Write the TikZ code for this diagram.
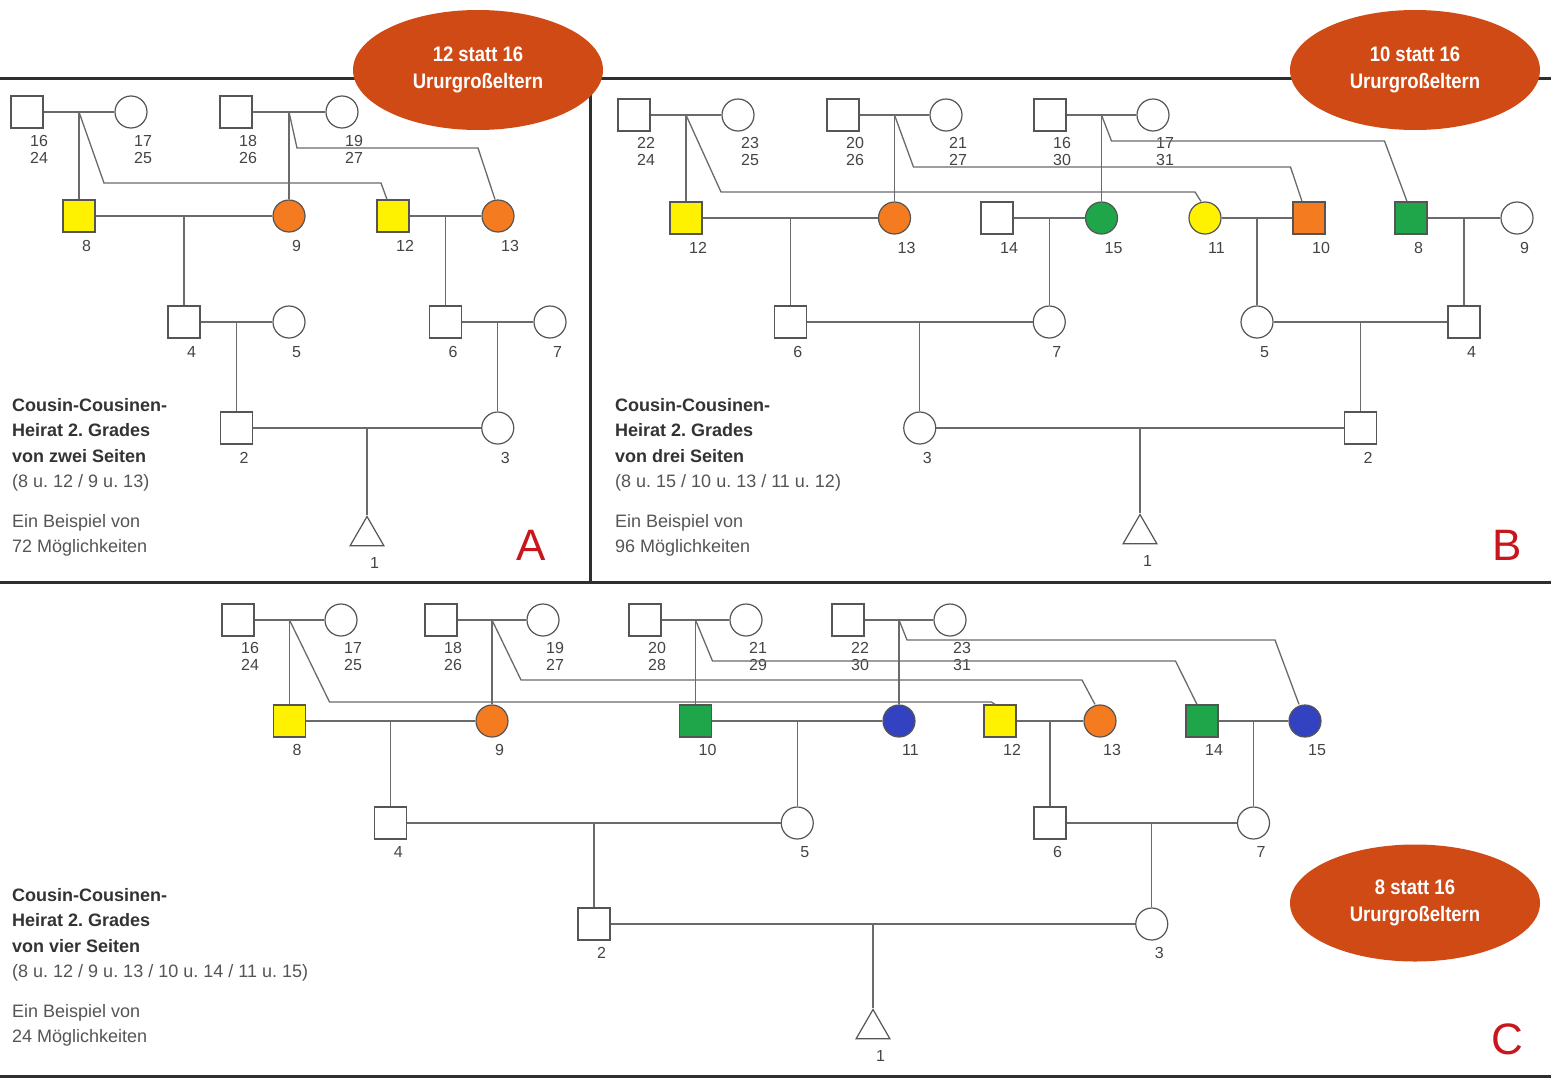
\documentclass[tikz,border=0pt]{standalone}
\usepackage{fontspec}
\setmainfont{Liberation Sans}
\newfontfamily\ovalfont{Liberation Sans}[FakeStretch=0.88]
\usetikzlibrary{calc,shapes.geometric}
\definecolor{ovalred}{HTML}{D04A16}
\definecolor{pyel}{HTML}{FFF200}
\definecolor{pora}{HTML}{F47B20}
\definecolor{pgrn}{HTML}{1FA64A}
\definecolor{pblu}{HTML}{3242C0}
\definecolor{linegray}{HTML}{6A6A6A}
\definecolor{shapegray}{HTML}{555555}
\definecolor{framegray}{HTML}{2E2E2E}
\definecolor{txtdark}{HTML}{333333}
\definecolor{txtgray}{HTML}{555555}
\definecolor{numgray}{HTML}{444444}
\definecolor{lettred}{HTML}{C8161D}
\begin{document}
\frenchspacing
\begin{tikzpicture}[x=1pt,y=-1pt,
  person/.style={draw=shapegray, line width=1.2pt, fill=white, inner sep=0pt, minimum size=32pt},
  male/.style={person, rectangle},
  female/.style={person, circle},
  mY/.style={male, fill=pyel},
  mO/.style={male, fill=pora},
  mG/.style={male, fill=pgrn},
  fY/.style={female, fill=pyel},
  fO/.style={female, fill=pora},
  fG/.style={female, fill=pgrn},
  fB/.style={female, fill=pblu},
  childtri/.style={draw=shapegray, line width=1.2pt, fill=white, regular polygon, regular polygon sides=3, minimum size=39pt, inner sep=0pt},
  con/.style={draw=linegray, line width=1.3pt},
  frameline/.style={draw=framegray, line width=3pt},
  numlab/.style={inner sep=0pt, anchor=north west, align=left, text=numgray, font=\frenchspacing\fontsize{16}{17}\selectfont},
  desc/.style={inner sep=0pt, anchor=north west, align=left, text=txtdark, font=\frenchspacing\fontsize{18}{25.5}\selectfont},
  descb/.style={inner sep=0pt, anchor=north west, align=left, text=txtgray, font=\frenchspacing\fontsize{18}{25}\selectfont},
  ovalnode/.style={ellipse, fill=ovalred, minimum width=250pt, minimum height=120pt, inner sep=0pt, text=white, align=center, font=\ovalfont\bfseries\fontsize{21}{27}\selectfont},
  panelletter/.style={inner sep=0pt, anchor=base, text=lettred, font=\fontsize{44}{48}\selectfont}
]
\useasboundingbox (0,0) rectangle (1551,1079);
\fill[white] (0,0) rectangle (1551,1079);

% frame
\draw[frameline] (0,78) -- (1551,78);
\draw[frameline] (590,78) -- (590,582);
\draw[frameline] (0,582) -- (1551,582);
\draw[frameline] (0,1076) -- (1551,1076);

% ================= Panel A =================
\foreach \n/\px/\py/\st in {16/27/112/male, 17/131/112/female, 18/236/112/male, 19/342/112/female,
  8/79/216/mY, 9/289/216/fO, 12/393/216/mY, 13/498/216/fO,
  4/184/322/male, 5/289/322/female, 6/445.5/322/male, 7/550/322/female,
  2/236.5/428/male, 3/497.75/428/female}
  \node[\st] (A\n) at (\px,\py) {};
\node[childtri] (A1) at (367,536) {};

\foreach \n/\b in {16/24,17/25,18/26,19/27}
  \node[numlab] (lA\n) at ($(A\n)+(3,23.5)$) {\n\\\b};
\foreach \n in {8,9,12,13,4,5,6,7,2,3}
  \node[numlab] (lA\n) at ($(A\n)+(3,24.5)$) {\n};
\node[numlab] (lA1) at ($(A1)+(3,21)$) {1};

\foreach \a/\b in {16/17,18/19,8/9,12/13,4/5,6/7,2/3}{
  \draw[con] (A\a) -- (A\b);
  \coordinate (jA\a\b) at ($(A\a)!0.5!(A\b)$);
}
\foreach \j/\c in {1617/8,1819/9,89/4,1213/6,45/2,67/3,23/1}
  \draw[con] (jA\j) -- (jA\j |- A\c.north);
\draw[con] (jA1617) -- ++(25,71) -- ++(277,0) -- ($(A12.north)+(-6,0)$);
\draw[con] (jA1819) -- ++(8,36) -- ++(181,0) -- ($(A13.north)+(-3,0)$);

\node[desc] (tA1) at (12,398) {\textbf{Cousin-Cousinen-}\\\textbf{Heirat 2. Grades}\\\textbf{von zwei Seiten}\\{\color{txtgray}(8 u. 12 / 9 u. 13)}};
\node[descb] (tA2) at (12,514) {Ein Beispiel von\\72 Möglichkeiten};
\node[panelletter] (letA) at (531,560) {A};

% ================= Panel B =================
\foreach \n/\px/\py/\st in {22/634/115/male, 23/738/115/female, 20/843/115/male, 21/946/115/female, 16/1050/115/male, 17/1153/115/female,
  12/686/218/mY, 13/894.5/218/fO, 14/997/218/male, 15/1101.5/218/fG, 11/1205/218/fY, 10/1309/218/mO, 8/1411/218/mG, 9/1517/218/female,
  6/790.25/322/male, 7/1049.25/322/female, 5/1257/322/female, 4/1464/322/male,
  3/919.75/428/female, 2/1360.5/428/male}
  \node[\st] (B\n) at (\px,\py) {};
\node[childtri] (B1) at (1140,534) {};

\foreach \n/\b in {22/24,23/25,20/26,21/27,16/30,17/31}
  \node[numlab] (lB\n) at ($(B\n)+(3,22.5)$) {\n\\\b};
\foreach \n in {12,13,14,15,11,10,8,9,6,7,5,4,3,2}
  \node[numlab] (lB\n) at ($(B\n)+(3,24.5)$) {\n};
\node[numlab] (lB1) at ($(B1)+(3,21)$) {1};

\foreach \a/\b in {22/23,20/21,16/17,12/13,14/15,11/10,8/9,6/7,5/4,3/2}{
  \draw[con] (B\a) -- (B\b);
  \coordinate (jB\a\b) at ($(B\a)!0.5!(B\b)$);
}
\foreach \j/\c in {2223/12,2021/13,1617/15,1213/6,1415/7,1110/5,89/4,67/3,54/2,32/1}
  \draw[con] (jB\j) -- (jB\j |- B\c.north);
\draw[con] (jB2223) -- ++(35,77) -- ++(474,0) -- ($(B11.north)+(-4,0)$);
\draw[con] (jB2021) -- ++(19,52) -- ++(377,0) -- ($(B10.north)+(-7,0)$);
\draw[con] (jB1617) -- ++(10,26) -- ++(273,0) -- ($(B8.north)+(-4,0)$);

\node[desc] (tB1) at (615,398) {\textbf{Cousin-Cousinen-}\\\textbf{Heirat 2. Grades}\\\textbf{von drei Seiten}\\{\color{txtgray}(8 u. 15 / 10 u. 13 / 11 u. 12)}};
\node[descb] (tB2) at (615,514) {Ein Beispiel von\\96 Möglichkeiten};
\node[panelletter] (letB) at (1507,560) {B};

% ================= Panel C =================
\foreach \n/\px/\py/\st in {16/238/620/male, 17/341/620/female, 18/441/620/male, 19/543/620/female,
  20/645/620/male, 21/746/620/female, 22/848/620/male, 23/950/620/female,
  8/289.5/721/mY, 9/492/721/fO, 10/695.5/721/mG, 11/899/721/fB, 12/1000/721/mY, 13/1100/721/fO, 14/1202/721/mG, 15/1305/721/fB,
  4/390.75/823/male, 5/797.25/823/female, 6/1050/823/male, 7/1253.5/823/female,
  2/594/924/male, 3/1151.75/924/female}
  \node[\st] (C\n) at (\px,\py) {};
\node[childtri] (C1) at (873,1029) {};

\foreach \n/\b in {16/24,17/25,18/26,19/27,20/28,21/29,22/30,23/31}
  \node[numlab] (lC\n) at ($(C\n)+(3,22.5)$) {\n\\\b};
\foreach \n in {8,9,10,11,12,13,14,15,4,5,6,7,2,3}
  \node[numlab] (lC\n) at ($(C\n)+(3,23.5)$) {\n};
\node[numlab] (lC1) at ($(C1)+(3,21)$) {1};

\foreach \a/\b in {16/17,18/19,20/21,22/23,8/9,10/11,12/13,14/15,4/5,6/7,2/3}{
  \draw[con] (C\a) -- (C\b);
  \coordinate (jC\a\b) at ($(C\a)!0.5!(C\b)$);
}
\foreach \j/\c in {1617/8,1819/9,2021/10,2223/11,89/4,1011/5,1213/6,1415/7,45/2,67/3,23/1}
  \draw[con] (jC\j) -- (jC\j |- C\c.north);
\draw[con] (jC1617) -- ++(40,82) -- ++(662,0) -- ($(C12.north)+(-5,0)$);
\draw[con] (jC1819) -- ++(29,60) -- ++(561,0) -- ($(C13.north)+(-5,0)$);
\draw[con] (jC2021) -- ++(17,41) -- ++(463,0) -- ($(C14.north)+(-5,0)$);
\draw[con] (jC2223) -- ++(8,20) -- ++(368,0) -- ($(C15.north)+(-6,0)$);

\node[desc] (tC1) at (12,888) {\textbf{Cousin-Cousinen-}\\\textbf{Heirat 2. Grades}\\\textbf{von vier Seiten}\\{\color{txtgray}(8 u. 12 / 9 u. 13 / 10 u. 14 / 11 u. 15)}};
\node[descb] (tC2) at (12,1004) {Ein Beispiel von\\24 Möglichkeiten};
\node[panelletter] (letC) at (1507,1054) {C};

% ================= Ovals =================
\node[ovalnode] (ovA) at (478,70) {12 statt 16\\Ururgroßeltern};
\node[ovalnode] (ovB) at (1415,70) {10 statt 16\\Ururgroßeltern};
\node[ovalnode, minimum height=117pt] (ovC) at (1415,903) {8 statt 16\\Ururgroßeltern};
\end{tikzpicture}
\end{document}
